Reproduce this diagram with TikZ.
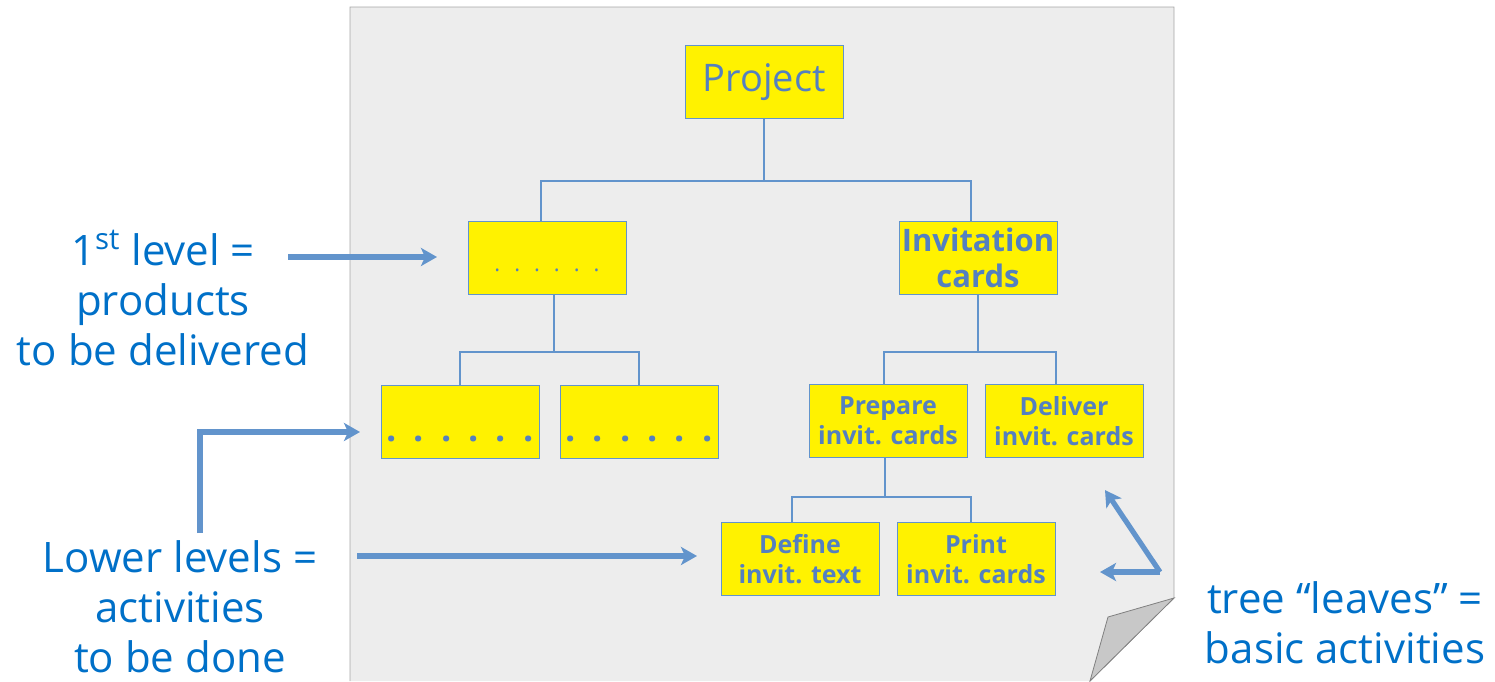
\documentclass[tikz,border=0pt]{standalone}
\usepackage{fontspec}
\setmainfont{Open Sans}
\usetikzlibrary{arrows.meta}

\definecolor{treeline}{RGB}{98,148,204}
\definecolor{boxtext}{RGB}{84,128,192}
\definecolor{notetext}{RGB}{0,112,200}
\definecolor{paper}{RGB}{237,237,237}
\definecolor{foldgray}{RGB}{200,200,200}

\newcommand{\bigdots}{.\hspace{8.5pt}.\hspace{8.5pt}.\hspace{8.5pt}.\hspace{8.5pt}.\hspace{8.5pt}.}
\newcommand{\smalldots}{.\hspace{7pt}.\hspace{7pt}.\hspace{7pt}.\hspace{7pt}.\hspace{7pt}.}

\tikzset{
  wbsbox/.style={draw=treeline, fill=yellow, minimum width=79pt, minimum height=36.5pt,
    inner sep=1pt, align=center, text=boxtext, font=\bfseries\fontsize{12.5}{15}\selectfont},
  dotsbox/.style={wbsbox, text height=19pt, text depth=0pt, font=\bfseries\fontsize{18}{20}\selectfont},
  link/.style={treeline, line width=1.2pt},
  pointer/.style={treeline, line width=2.6pt, -{Stealth[length=8pt, width=9pt, inset=2pt]}},
  note/.style={text=notetext, align=center, font=\fontsize{21}{25}\selectfont}
}

\begin{document}
\begin{tikzpicture}[x=0.5pt, y=-0.5pt]
    \useasboundingbox (0,0) rectangle (1495,681);

    % the sheet with its folded corner
    \fill[paper] (350,7) -- (1174,7) -- (1174,598) -- (1090,681) -- (350,681) -- cycle;
    \draw[gray!70] (350,681) -- (350,7) -- (1174,7) -- (1174,598) -- (1090,681);
    \draw[gray, fill=foldgray] (1174,598) -- (1108,617) -- (1090,681) -- cycle;

    % tree
    \node[wbsbox, font=\fontsize{19}{22}\selectfont] (project) at (764,82) {Project};
    \node[wbsbox, text height=13pt, text depth=0pt, font=\fontsize{11}{13}\selectfont] (dots1) at (547,258) {\smalldots};
    \node[wbsbox, font=\bfseries\fontsize{15.5}{18}\selectfont] (invit) at (978,258) {Invitation\\cards};
    \node[dotsbox] (leafa) at (460,422) {\bigdots};
    \node[dotsbox] (leafb) at (639,422) {\bigdots};
    \node[wbsbox] (prep) at (888,421) {Prepare\\invit. cards};
    \node[wbsbox] (deliv) at (1064,421) {Deliver\\invit. cards};
    \node[wbsbox] (define) at (800,559) {Define\\invit. text};
    \node[wbsbox] (print) at (976,559) {Print\\invit. cards};

    \coordinate (bar1) at (764,181);
    \coordinate (bar2) at (554,352);
    \coordinate (bar3) at (978,352);
    \coordinate (bar4) at (885,497);
    \draw[link] (project.south) -- (bar1);
    \draw[link] ([xshift=-3pt]dots1.north) |- (bar1) -| ([xshift=-3.5pt]invit.north);
    \draw[link] (dots1.south -| bar2) -- (bar2);
    \draw[link] (leafa.north) |- (bar2) -| (leafb.north);
    \draw[link] (invit.south) -- (bar3);
    \draw[link] ([xshift=-2pt]prep.north) |- (bar3) -| ([xshift=-4pt]deliv.north);
    \draw[link] (prep.south -| bar4) -- (bar4);
    \draw[link] ([xshift=-4pt]define.north) |- (bar4) -| ([xshift=-2.5pt]print.north);

    % notes
    \node[note] (first) at (163,298) {1\textsuperscript{st} level =\\products\\to be delivered};
    \node[note] (lower) at (180,607) {Lower levels =\\activities\\to be done};
    \node[note] (leaves) at (1345,623) {tree “leaves” =\\basic activities};

    \coordinate (p1) at (288,257);
    \coordinate (p2) at (200,533);
    \coordinate (p3) at (357,556);
    \coordinate (p4) at (1160,572);
    \draw[pointer] (p1) -- (437,257);
    \draw[pointer] (p2) |- (360,432);
    \draw[pointer] (p3) -- (697,556);
    \draw[pointer] (p4) -- (1100,572);
    \draw[pointer] (p4) -- (1105,490);
\end{tikzpicture}
\end{document}
